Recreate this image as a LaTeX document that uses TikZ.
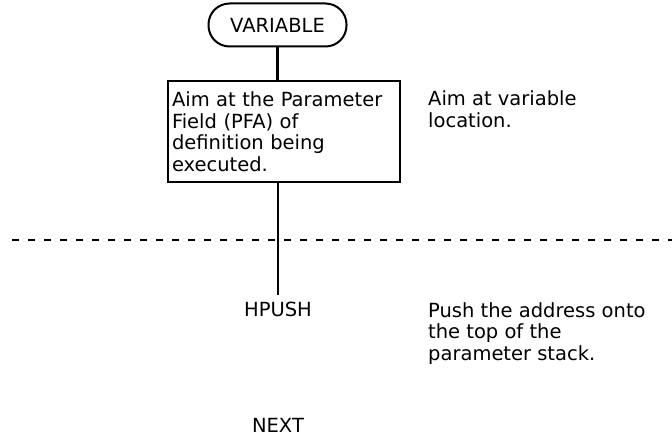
\documentclass[tikz,border=0pt]{standalone}
\usepackage{fontspec}
\setmainfont{DejaVu Sans}
\begin{document}
\begin{tikzpicture}[x=1pt,y=-1pt,
  every node/.style={font=\fontsize{19.5}{21.5}\selectfont, inner sep=0pt},
  terminal/.style={draw, line width=2pt, rounded corners=21pt, minimum width=138pt, minimum height=43pt},
  procbox/.style={draw, line width=2pt, minimum width=232pt, minimum height=101pt, text width=224pt, inner xsep=4pt, align=left},
  note/.style={anchor=base west, align=left},
  flow/.style={line width=2.2pt},
  sep/.style={line width=2.2pt, dash pattern=on 7pt off 9pt}]
\useasboundingbox (0,0) rectangle (672,438);
\node[terminal] (var) at (277.5,25) {VARIABLE};
\node[procbox] (box) at (284,131.5) {Aim at the Parameter\\Field (PFA) of\\definition being\\executed.};
\node[note] (n1) at (428,127.5) {Aim at variable\\location.};
\node (hpush) at (278,309) {HPUSH};
\node[note] (n2) at (428,360) {Push the address onto\\the top of the\\parameter stack.};
\node (next) at (278,425) {NEXT};
\coordinate (dl) at (12,240);
\coordinate (dr) at (672,240);
\coordinate (hend) at (278,295);
\draw[flow] (var.south) -- (var.south |- box.north);
\draw[flow] (box.south -| hend) -- (hend);
\draw[sep] (dl) -- (dr);
\end{tikzpicture}
\end{document}
